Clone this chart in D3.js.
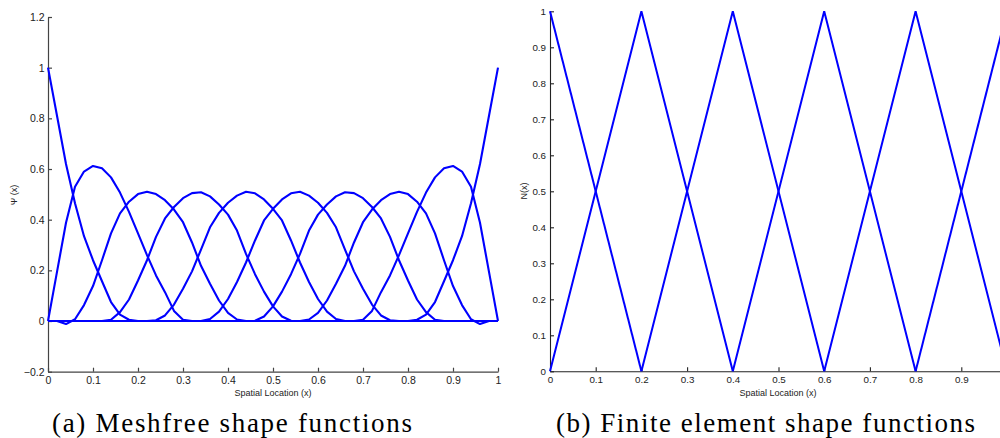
<!DOCTYPE html>
<html lang="en">
<head>
    <meta charset="UTF-8">
    <script src="https://d3js.org/d3.v7.min.js"></script>
    <title>Shape functions</title>
    <style>
        body { margin: 0; background: white; }
        svg { background-color: white; display: block; }
        .tick text { font-family: "Liberation Sans", Helvetica, Arial, sans-serif; fill: #222; }
        .axlabel { font-family: "Liberation Sans", Helvetica, Arial, sans-serif; fill: #222; }
        .caption { font-family: "Liberation Serif", "DejaVu Serif", serif; fill: #000; }
    </style>
</head>
<body>
    <svg width="1000" height="438"></svg>

    <script>
    // ticks
    const leftXTicks = [0, 0.1, 0.2, 0.3, 0.4, 0.5, 0.6, 0.7, 0.8, 0.9, 1];
    const leftYTicks = [-0.2, 0, 0.2, 0.4, 0.6, 0.8, 1, 1.2];
    // the tick at 1 falls outside the picture on the right, so it is left out
    const rightXTicks = [0, 0.1, 0.2, 0.3, 0.4, 0.5, 0.6, 0.7, 0.8, 0.9];
    const rightYTicks = [0, 0.1, 0.2, 0.3, 0.4, 0.5, 0.6, 0.7, 0.8, 0.9, 1];

    // meshfree curves, sampled every 0.02 in x; value list starts at grid index psiStart[i]
    // (zero outside the listed part)
    const gridStep = 0.02;
    const gridCount = 51;
    const psiStart = [0, 0, 1, 6, 11, 17, 22, 28, 34, 40];
    const psi1 = [1.0, 0.81, 0.62, 0.465, 0.335, 0.24, 0.157, 0.075, 0.025, 0.005, 0];
    const psi2 = [0, 0.194, 0.388, 0.53, 0.59, 0.612, 0.603, 0.567, 0.507, 0.431, 0.346, 0.26, 0.18, 0.114, 0.04, 0.005, 0];
    const psi3 = [0, -0.012, 0.007, 0.063, 0.138, 0.24, 0.346, 0.425, 0.471, 0.501, 0.51, 0.501, 0.477, 0.44, 0.39, 0.31, 0.218, 0.147, 0.081, 0.032, 0.006, 0];
    const psi4 = [0, 0.005, 0.035, 0.085, 0.16, 0.24, 0.332, 0.405, 0.45, 0.485, 0.505, 0.508, 0.492, 0.46, 0.42, 0.357, 0.265, 0.185, 0.116, 0.058, 0.018, 0.001, 0];
    const psi5 = [0, 0.003, 0.022, 0.065, 0.127, 0.196, 0.282, 0.37, 0.427, 0.467, 0.495, 0.51, 0.504, 0.48, 0.443, 0.397, 0.318, 0.231, 0.154, 0.087, 0.037, 0.008, 0];
    const psi6 = [0, 0.008, 0.037, 0.087, 0.154, 0.231, 0.318, 0.397, 0.443, 0.48, 0.504, 0.51, 0.495, 0.467, 0.427, 0.37, 0.282, 0.196, 0.127, 0.065, 0.022, 0.003, 0];
    const psi7 = [0, 0.001, 0.018, 0.058, 0.116, 0.185, 0.265, 0.357, 0.42, 0.46, 0.492, 0.508, 0.505, 0.485, 0.45, 0.405, 0.332, 0.24, 0.16, 0.085, 0.035, 0.005, 0];
    const psi8 = [0, 0.006, 0.032, 0.081, 0.147, 0.218, 0.31, 0.39, 0.44, 0.477, 0.501, 0.51, 0.501, 0.471, 0.425, 0.346, 0.24, 0.138, 0.063, 0.007, -0.012, 0];
    const psi9 = [0, 0.005, 0.04, 0.114, 0.18, 0.26, 0.346, 0.431, 0.507, 0.567, 0.603, 0.612, 0.59, 0.53, 0.388, 0.194, 0];
    const psi10 = [0, 0.005, 0.025, 0.075, 0.157, 0.24, 0.335, 0.465, 0.62, 0.81, 1.0];

    // finite element nodes (hat functions)
    const feNodes = [0, 0.2, 0.4, 0.6, 0.8, 1];

    const captionA = "(a) Meshfree shape functions";
    const captionB = "(b) Finite element shape functions";

    const svg = d3.select("svg");
    const blue = "#0000ff";

    // ---------- left panel ----------
    const xL = d3.scaleLinear().domain([0, 1]).range([48, 498]);
    const yL = d3.scaleLinear().domain([-0.2, 1.2]).range([371.7, 17]);
    const fmt = d3.format("~g");

    const left = svg.append("g").attr("class", "left");

    left.append("g")
        .attr("transform", `translate(0,${yL(-0.2)})`)
        .call(d3.axisBottom(xL).tickValues(leftXTicks).tickFormat(fmt)
              .tickSizeInner(-4).tickSizeOuter(0).tickPadding(5))
        .call(g => g.selectAll(".tick text").style("font-size", "10.5px"));

    left.append("g")
        .attr("transform", `translate(${xL(0)},0)`)
        .call(d3.axisLeft(yL).tickValues(leftYTicks).tickFormat(fmt)
              .tickSizeInner(-4).tickSizeOuter(0).tickPadding(3.5))
        .call(g => g.selectAll(".tick text").style("font-size", "10.5px"));

    left.selectAll(".domain, .tick line").attr("stroke", "#444").attr("stroke-width", 1.2);

    const psiAll = [psi1, psi2, psi3, psi4, psi5, psi6, psi7, psi8, psi9, psi10];
    const gridX = d3.range(gridCount).map(k => k * gridStep);
    const meshCurves = psiAll.map((vals, i) => gridX.map((x, k) => {
        const j = k - psiStart[i];
        return [x, (j >= 0 && j < vals.length) ? vals[j] : 0];
    }));

    const lineL = d3.line().x(d => xL(d[0])).y(d => yL(d[1]));
    left.append("g").selectAll("path")
        .data(meshCurves)
        .join("path")
        .attr("d", lineL)
        .attr("fill", "none")
        .attr("stroke", blue)
        .attr("stroke-width", 2.1)
        .attr("stroke-linejoin", "round");

    left.append("text").attr("class", "axlabel")
        .attr("x", 273).attr("y", 395.5)
        .attr("text-anchor", "middle")
        .style("font-size", "9px")
        .text("Spatial Location (x)");

    left.append("text").attr("class", "axlabel")
        .attr("transform", "translate(17,195) rotate(-90)")
        .attr("text-anchor", "middle")
        .style("font-size", "9px")
        .text("Ψ (x)");

    // ---------- right panel ----------
    const xR = d3.scaleLinear().domain([0, 1]).range([550, 1007]);
    const yR = d3.scaleLinear().domain([0, 1]).range([371.3, 11.3]);

    const right = svg.append("g").attr("class", "right");

    right.append("g")
        .attr("transform", `translate(0,${yR(0)})`)
        .call(d3.axisBottom(xR).tickValues(rightXTicks).tickFormat(fmt)
              .tickSizeInner(-4).tickSizeOuter(0).tickPadding(5))
        .call(g => g.selectAll(".tick text").style("font-size", "9.8px"));

    right.append("g")
        .attr("transform", `translate(${xR(0)},0)`)
        .call(d3.axisLeft(yR).tickValues(rightYTicks).tickFormat(fmt)
              .tickSizeInner(-4).tickSizeOuter(0).tickPadding(4))
        .call(g => g.selectAll(".tick text").style("font-size", "9.8px"));

    right.selectAll(".domain, .tick line").attr("stroke", "#222").attr("stroke-width", 1.1);

    const hats = feNodes.map((xn, i) => {
        const pts = [];
        if (i > 0) pts.push([feNodes[i - 1], 0]);
        pts.push([xn, 1]);
        if (i < feNodes.length - 1) pts.push([feNodes[i + 1], 0]);
        return pts;
    });

    const lineR = d3.line().x(d => xR(d[0])).y(d => yR(d[1]));
    right.append("g").selectAll("path")
        .data(hats)
        .join("path")
        .attr("d", lineR)
        .attr("fill", "none")
        .attr("stroke", blue)
        .attr("stroke-width", 2)
        .attr("stroke-linejoin", "miter");

    right.append("text").attr("class", "axlabel")
        .attr("x", 778).attr("y", 395.5)
        .attr("text-anchor", "middle")
        .style("font-size", "9px")
        .text("Spatial Location (x)");

    right.append("text").attr("class", "axlabel")
        .attr("transform", "translate(526.5,191) rotate(-90)")
        .attr("text-anchor", "middle")
        .style("font-size", "9px")
        .text("N(x)");

    // ---------- captions ----------
    svg.append("text").attr("class", "caption")
        .attr("x", 52).attr("y", 432)
        .attr("textLength", 360).attr("lengthAdjust", "spacing")
        .style("font-size", "27px")
        .text(captionA);

    svg.append("text").attr("class", "caption")
        .attr("x", 556).attr("y", 432)
        .attr("textLength", 419).attr("lengthAdjust", "spacing")
        .style("font-size", "27px")
        .text(captionB);
    </script>
</body>
</html>
